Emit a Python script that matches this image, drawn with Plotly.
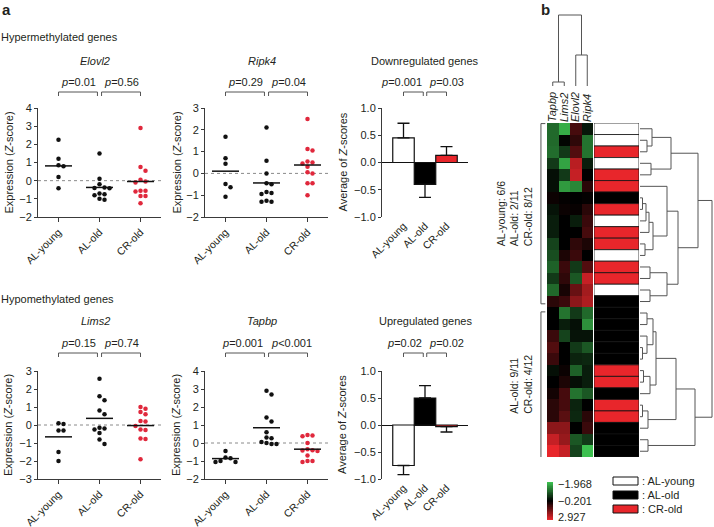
import numpy as np
import plotly.graph_objects as go

W, H = 714, 527

groups = ["AL-young", "AL-old", "CR-old"]

# panel a - Z-scores of single mice
elovl2_young = [2.25, 1.2, 0.85, 0.8, 0.2, -0.42]
elovl2_old = [1.5, 0.1, -0.2, -0.38, -0.4, -0.42, -0.7, -0.75, -0.8, -1.0, -1.05]
elovl2_cr = [2.9, 0.75, 0.55, 0.05, -0.05, -0.1, -0.55, -0.55, -0.6, -0.85, -0.85, -1.25]
ripk4_young = [1.68, 0.69, 0.44, -0.49, -0.64, -1.07]
ripk4_old = [2.1, 0.58, 0.0, -0.45, -0.5, -0.85, -0.9, -0.95, -1.25, -1.3, -1.3]
ripk4_cr = [2.5, 1.12, 1.05, 0.55, 0.5, 0.45, 0.3, 0.05, 0.0, -0.45, -0.45, -1.0]
lims2_young = [0.1, 0.05, -0.3, -0.3, -1.5, -2.0]
lims2_old = [2.57, 1.6, 1.37, 0.81, 0.6, -0.15, -0.2, -0.25, -0.45, -0.8, -1.05]
lims2_cr = [1.0, 0.9, 0.72, 0.6, 0.22, 0.2, -0.05, -0.25, -0.28, -0.75, -0.78, -1.9]
tapbp_young = [-0.45, -0.8, -0.85, -1.0, -1.05, -1.05]
tapbp_old = [2.9, 2.7, 1.42, 1.2, 0.6, 0.3, 0.26, 0.05, 0.0, -0.05, -0.05]
tapbp_cr = [0.45, 0.42, 0.38, 0.0, -0.35, -0.4, -0.42, -0.45, -0.7, -1.0, -1.0, -1.05]

elovl2_p = ["0.01", "0.56"]
ripk4_p = ["0.29", "0.04"]
lims2_p = ["0.15", "0.74"]
tapbp_p = ["0.001", "<0.001"]

# average of Z-scores (mean, sem)
down_mean = [0.45, -0.40, 0.13]
down_sem = [0.27, 0.24, 0.16]
down_p = ["0.001", "0.03"]
up_mean = [-0.75, 0.50, -0.03]
up_sem = [0.17, 0.23, 0.10]
up_p = ["0.02", "0.02"]

# panel b - heatmap, rows in dendrogram order
hm_genes = ["Tapbp", "Lims2", "Elovl2", "Ripk4"]
hm_tapbp = [-1.17, -1.17, -1.2, -0.73, -0.34, -0.34, -0.04, -0.38, -0.47, -0.47, -0.82, -0.91, -1.09, -0.73, -1.17,
            0.36, -0.2, -0.2, 0.58, 0.9, 0.58, -0.34, -0.2, 0.05, 0.36, 0.36, 1.68, 2.46, 2.927]
hm_lims2 = [-1.79, -0.25, -0.73, -1.7, -0.73, -1.62, -0.15, -0.05, -0.2, -0.2, -0.2, 0.17, 0.58, 0.43, 0.11,
            0.58, -1.26, -0.47, -0.82, -0.2, -0.2, -0.05, 0.17, 0.74, 0.74, 1.0, 1.68, 1.83, 2.46]
hm_elovl2 = [0.74, 0.43, 0.9, 2.3, 2.46, -1.44, -0.2, -0.1, -0.47, -0.2, 0.43, 0.58, -0.73, -1.0, 1.2,
             1.68, -0.73, -0.34, -0.38, -0.73, -0.52, -1.09, -0.34, -1.26, -0.52, -0.56, -0.2, -1.0, -0.82]
hm_ripk4 = [-0.41, -1.26, -1.26, -0.47, -0.2, 0.36, -0.15, 0.36, 0.58, 0.74, 0.17, -0.2, 0.9, 2.46, 1.99,
            2.15, -1.17, -1.53, -0.38, -1.0, -0.56, -0.47, -0.47, -1.0, -0.2, 0.36, 0.58, -0.73, -1.968]
# 0 = AL-young, 1 = AL-old, 2 = CR-old
row_group = [0, 0, 2, 0, 2, 2, 1, 2, 0, 2, 2, 0, 2, 2, 0, 1,
             1, 1, 1, 1, 1, 2, 2, 1, 2, 2, 1, 1, 1]
cluster_sizes = [16, 13]
colorbar_ticks = [-1.968, -0.201, 2.927]

# (left, right, height) merges
row_tree = (
    (((0, (1, 2, 7), 12), (3, 4, 11), 31),
     ((5, ((((6, 7, 2.5), 8, 6), 9, 9), (10, 11, 5), 13), 27),
      ((12, 13, 10), (14, 15, 10), 27), 38), 58),
    (((((16, 17, 7), (18, (19, 20, 2.5), 7), 13), ((21, 22, 3.5), 23, 10), 16),
      ((24, 25, 2.5), 26, 8), 36),
     (27, 28, 8), 55),
    72)
col_tree = ((0, 1, 4), (2, 3, 31), 71)

FONT = "Liberation Sans, Arial, sans-serif"
INK = "#231f20"
AXC = "#3a3a3a"
DOT_RED = "#e0283c"
RED = "#e8262b"
GREEN = "#3cc04f"


def hx(p):
    return p / W


def hy(p):
    return 1 - p / H


def names(i):
    s = "" if i == 1 else str(i)
    return "xaxis" + s, "yaxis" + s, "x" + s, "y" + s


def ptxt(p):
    if p.startswith("<"):
        return "<i>p</i>&lt;" + p[1:]
    return "<i>p</i>=" + p


def swarm(vals, center, ppu, ppc, dia=5.0):
    placed = []
    xs = [0.0] * len(vals)
    for i in sorted(range(len(vals)), key=lambda k: -vals[k]):
        y = vals[i] * ppu
        for k in [0, 1, -1, 2, -2, 3, -3]:
            x = k * dia
            if all((x - a) ** 2 + (y - b) ** 2 >= dia ** 2 * 0.95 for a, b in placed):
                break
        placed.append((x, y))
        xs[i] = center + x / ppc
    return xs


def dendro(node):
    if isinstance(node, int):
        return node, 0.0, []
    l, r, h = node
    pl, hl, sl = dendro(l)
    pr, hr, sr = dendro(r)
    seg = [(hl, pl), (h, pl), (h, pr), (hr, pr)]
    return (pl + pr) / 2, h, sl + sr + [seg]


fig = go.Figure()
shapes, annos, axes = [], [], {}


def text(x, y, s, size=11, **kw):
    d = dict(x=x, y=y, xref="paper", yref="paper", text=s, showarrow=False,
             xanchor="center", yanchor="middle", font=dict(size=size, color=INK, family=FONT))
    d.update(kw)
    annos.append(d)


rows = [dict(ypx=(108, 217), title=61, p=82, br=92),
        dict(ypx=(371, 479), title=321, p=343, br=353)]
cols = [dict(xpx=(38, 161), ytitle=8), dict(xpx=(205, 328), ytitle=176), dict(xpx=(382, 468), ytitle=342)]

scatter_panels = [
    ("Elovl2", [elovl2_young, elovl2_old, elovl2_cr], [-2, 4], elovl2_p, 0, 0, 1),
    ("Ripk4", [ripk4_young, ripk4_old, ripk4_cr], [-2, 3], ripk4_p, 0, 1, 2),
    ("Lims2", [lims2_young, lims2_old, lims2_cr], [-3, 3], lims2_p, 1, 0, 4),
    ("Tapbp", [tapbp_young, tapbp_old, tapbp_cr], [-2, 4], tapbp_p, 1, 1, 5),
]
bar_panels = [
    ("Downregulated genes", down_mean, down_sem, down_p, 0, 3),
    ("Upregulated genes", up_mean, up_sem, up_p, 1, 6),
]


def base_axes(i, r, c, xr_range, yr_range):
    xa, ya, xr, yr = names(i)
    ypx, xpx = rows[r]["ypx"], cols[c]["xpx"]
    axes[xa] = dict(domain=[hx(xpx[0]), hx(xpx[1])], range=xr_range, anchor=yr, automargin=False,
                    tickvals=[0, 1, 2], ticktext=groups, tickangle=-45,
                    tickfont=dict(size=10.5, color=INK), showgrid=False, zeroline=False)
    axes[ya] = dict(domain=[hy(ypx[1]), hy(ypx[0])], range=yr_range, anchor=xr, automargin=False,
                    ticks="outside", ticklen=3, tickcolor=AXC, showline=True, linecolor=AXC,
                    linewidth=1, showgrid=False, tickfont=dict(size=11, color=INK))
    return xa, ya, xr, yr


def brackets(xr, r, pairs, pv):
    top = rows[r]["br"]
    for (a, b), p in zip(pairs, pv):
        shapes.append(dict(type="path", xref=xr, yref="paper",
                           path=f"M {a},{hy(top + 4)} L {a},{hy(top)} L {b},{hy(top)} L {b},{hy(top + 4)}",
                           line=dict(color="#555", width=1)))
    # left label ends at the split, right label starts there
    text(pairs[0][1] + 0.02, hy(rows[r]["p"]), ptxt(pv[0]), xref=xr, xanchor="right")
    text(pairs[1][0] + 0.02, hy(rows[r]["p"]), ptxt(pv[1]), xref=xr, xanchor="left")


for gene, data, yrange, pv, r, c, i in scatter_panels:
    xa, ya, xr, yr = base_axes(i, r, c, [-0.5, 2.5], yrange)
    axes[xa].update(ticks="outside", ticklen=4, tickcolor=AXC, showline=True, linecolor=AXC, linewidth=1)
    axes[ya].update(dtick=1, zeroline=False)
    ypx, xpx = rows[r]["ypx"], cols[c]["xpx"]
    ppu = (ypx[1] - ypx[0]) / (yrange[1] - yrange[0])
    ppc = (xpx[1] - xpx[0]) / 3
    shapes.append(dict(type="line", xref=xr + " domain", yref=yr, x0=0, x1=1, y0=0, y1=0, layer="below",
                       line=dict(color="#8a8a8a", width=1, dash="dot")))
    for g, vals in enumerate(data):
        fig.add_trace(go.Scatter(x=swarm(vals, g, ppu, ppc), y=vals, mode="markers",
                                 marker=dict(size=4.5, color=DOT_RED if g == 2 else "#111"),
                                 xaxis=xr, yaxis=yr))
    mx, my = [], []
    for g, vals in enumerate(data):
        m = float(np.mean(vals))
        mx += [g - 0.33, g + 0.33, None]
        my += [m, m, None]
    fig.add_trace(go.Scatter(x=mx, y=my, mode="lines", line=dict(color="#111", width=1.5),
                             xaxis=xr, yaxis=yr))
    text(0.9, hy(rows[r]["title"]), f"<i>{gene}</i>", xref=xr)
    brackets(xr, r, [(0, 0.95), (1.05, 2)], pv)
    text(hx(cols[c]["ytitle"]), (axes[ya]["domain"][0] + axes[ya]["domain"][1]) / 2,
         "Expression (<i>Z</i>-score)", textangle=-90)

for title, mean, sem, pv, r, i in bar_panels:
    xa, ya, xr, yr = base_axes(i, r, 2, [-1, 3], [-1, 1])
    axes[xa].update(ticks="", showline=False)
    axes[ya].update(dtick=0.5, tickformat=".1f", zeroline=True, zerolinecolor="#111", zerolinewidth=1)
    plus = [s if m > 0 else 0 for m, s in zip(mean, sem)]
    minus = [0 if m > 0 else s for m, s in zip(mean, sem)]
    fig.add_trace(go.Bar(x=[0, 1, 2], y=mean, width=1, xaxis=xr, yaxis=yr,
                         marker=dict(color=["white", "black", RED], line=dict(color="#111", width=1.2)),
                         error_y=dict(type="data", symmetric=False, array=plus, arrayminus=minus,
                                      color="#111", thickness=1.3, width=6)))
    text(1, hy(rows[r]["title"]), title, xref=xr)
    brackets(xr, r, [(0, 0.92), (1.08, 2)], pv)
    text(hx(cols[2]["ytitle"]), (axes[ya]["domain"][0] + axes[ya]["domain"][1]) / 2,
         "Average of <i>Z</i>-scores", textangle=-90)

# ---- panel b ----
n = len(row_group)
ridx = list(range(n))
zmin, zmax = colorbar_ticks[0], colorbar_ticks[2]
mid = (colorbar_ticks[1] - zmin) / (zmax - zmin)
z = [list(v) for v in zip(hm_tapbp, hm_lims2, hm_elovl2, hm_ripk4)]
fig.add_trace(go.Heatmap(z=z, x=[0, 1, 2, 3], y=ridx, zmin=zmin, zmax=zmax, showscale=False,
                         colorscale=[[0, GREEN], [mid, "#000000"], [1, RED]], xaxis="x7", yaxis="y7"))
axes["xaxis7"] = dict(domain=[hx(547), hx(593)], range=[-0.5, 3.5], anchor="y7", side="top", automargin=False,
                      tickvals=[0, 1, 2, 3], ticktext=[f"<i>{g}</i>" for g in hm_genes], tickangle=-90,
                      ticks="", showgrid=False, zeroline=False, tickfont=dict(size=11, color=INK))
axes["yaxis7"] = dict(domain=[hy(457), hy(123)], range=[n - 0.5, -0.5], anchor="x7", visible=False,
                      automargin=False)

grp_col = ["white", "black", RED]
fig.add_trace(go.Bar(x=[1] * n, y=ridx, orientation="h", width=1, xaxis="x8", yaxis="y7",
                     marker=dict(color=[grp_col[g] for g in row_group], line=dict(color="#111", width=0.8))))
axes["xaxis8"] = dict(domain=[hx(594), hx(639)], range=[0, 1], anchor="y7", visible=False, automargin=False)

_, _, segs = dendro(row_tree)
dx, dy = [], []
for seg in segs:
    dx += [p[0] for p in seg] + [None]
    dy += [p[1] for p in seg] + [None]
fig.add_trace(go.Scatter(x=dx, y=dy, mode="lines", line=dict(color="#555", width=1), xaxis="x9", yaxis="y7"))
axes["xaxis9"] = dict(domain=[hx(640), hx(714)], range=[0, 74], anchor="y7", visible=False, automargin=False)

_, _, segs = dendro(col_tree)
dx, dy = [], []
for seg in segs:
    dx += [p[1] for p in seg] + [None]
    dy += [p[0] for p in seg] + [None]
fig.add_trace(go.Scatter(x=dx, y=dy, mode="lines", line=dict(color="#555", width=1), xaxis="x7", yaxis="y10"))
axes["yaxis10"] = dict(domain=[hy(86), hy(12)], range=[0, 74], anchor="x7", visible=False, automargin=False)

# cluster brackets and counts
bx, by = [], []
start = 0
totals = [row_group.count(g) for g in range(3)]
for ci, size in enumerate(cluster_sizes):
    a, b = start - 0.45 + (0 if ci == 0 else 0.35), start + size - 0.55 - (0.35 if ci == 0 else 0) + 0.1
    bx += [0.85, 0.45, 0.45, 0.85, None]
    by += [a, a, b, b, None]
    members = row_group[start:start + size]
    lines = [f"{groups[g]}: {members.count(g)}/{totals[g]}" for g in range(3) if members.count(g)]
    text(hx(536), (a + b) / 2, "<br>".join(lines), size=10.5, yref="y7", textangle=-90,
         xanchor="right", align="left")
    start += size
fig.add_trace(go.Scatter(x=bx, y=by, mode="lines", line=dict(color="#555", width=1), xaxis="x11", yaxis="y7"))
axes["xaxis11"] = dict(domain=[hx(536), hx(547)], range=[0, 1], anchor="y7", visible=False, automargin=False)

# colour key
ramp = np.linspace(0, 1, 60)
fig.add_trace(go.Heatmap(z=[[v] for v in ramp], showscale=False, xaxis="x12", yaxis="y12",
                         colorscale=[[0, GREEN], [0.5, "#000000"], [1, RED]]))
axes["xaxis12"] = dict(domain=[hx(547), hx(553)], anchor="y12", visible=False, automargin=False)
axes["yaxis12"] = dict(domain=[hy(520), hy(482)], anchor="x12", autorange="reversed", visible=False,
                       automargin=False)
for k, v in enumerate(colorbar_ticks):
    lab = f"{v:.3f}".replace("-", "\u2212")
    text(hx(556), hy(484 + 16.5 * k), lab, size=11, xanchor="left")

for g, name in enumerate(groups):
    yc = 481 + 14 * g
    shapes.append(dict(type="rect", xref="paper", yref="paper", x0=hx(613), x1=hx(638),
                       y0=hy(yc + 4), y1=hy(yc - 4), fillcolor=grp_col[g], line=dict(color="#111", width=1)))
    text(hx(640), hy(yc), ": " + name, size=11, xanchor="left")

text(hx(0), hy(9), "<b>a</b>", size=15, xanchor="left")
text(hx(539), hy(9), "<b>b</b>", size=15, xanchor="left")
text(hx(-1), hy(37), "Hypermethylated genes", xanchor="left")
text(hx(-1), hy(299), "Hypomethylated genes", xanchor="left")

fig.update_layout(width=W, height=H, margin=dict(l=0, r=0, t=0, b=0, autoexpand=False), showlegend=False,
                  paper_bgcolor="white", plot_bgcolor="white", font=dict(family=FONT, color=INK, size=11),
                  shapes=shapes, annotations=annos, **axes)
fig.write_html("out.html", config={"displayModeBar": False},
               post_script="document.body.style.margin='0px';document.body.style.overflow='hidden';")
